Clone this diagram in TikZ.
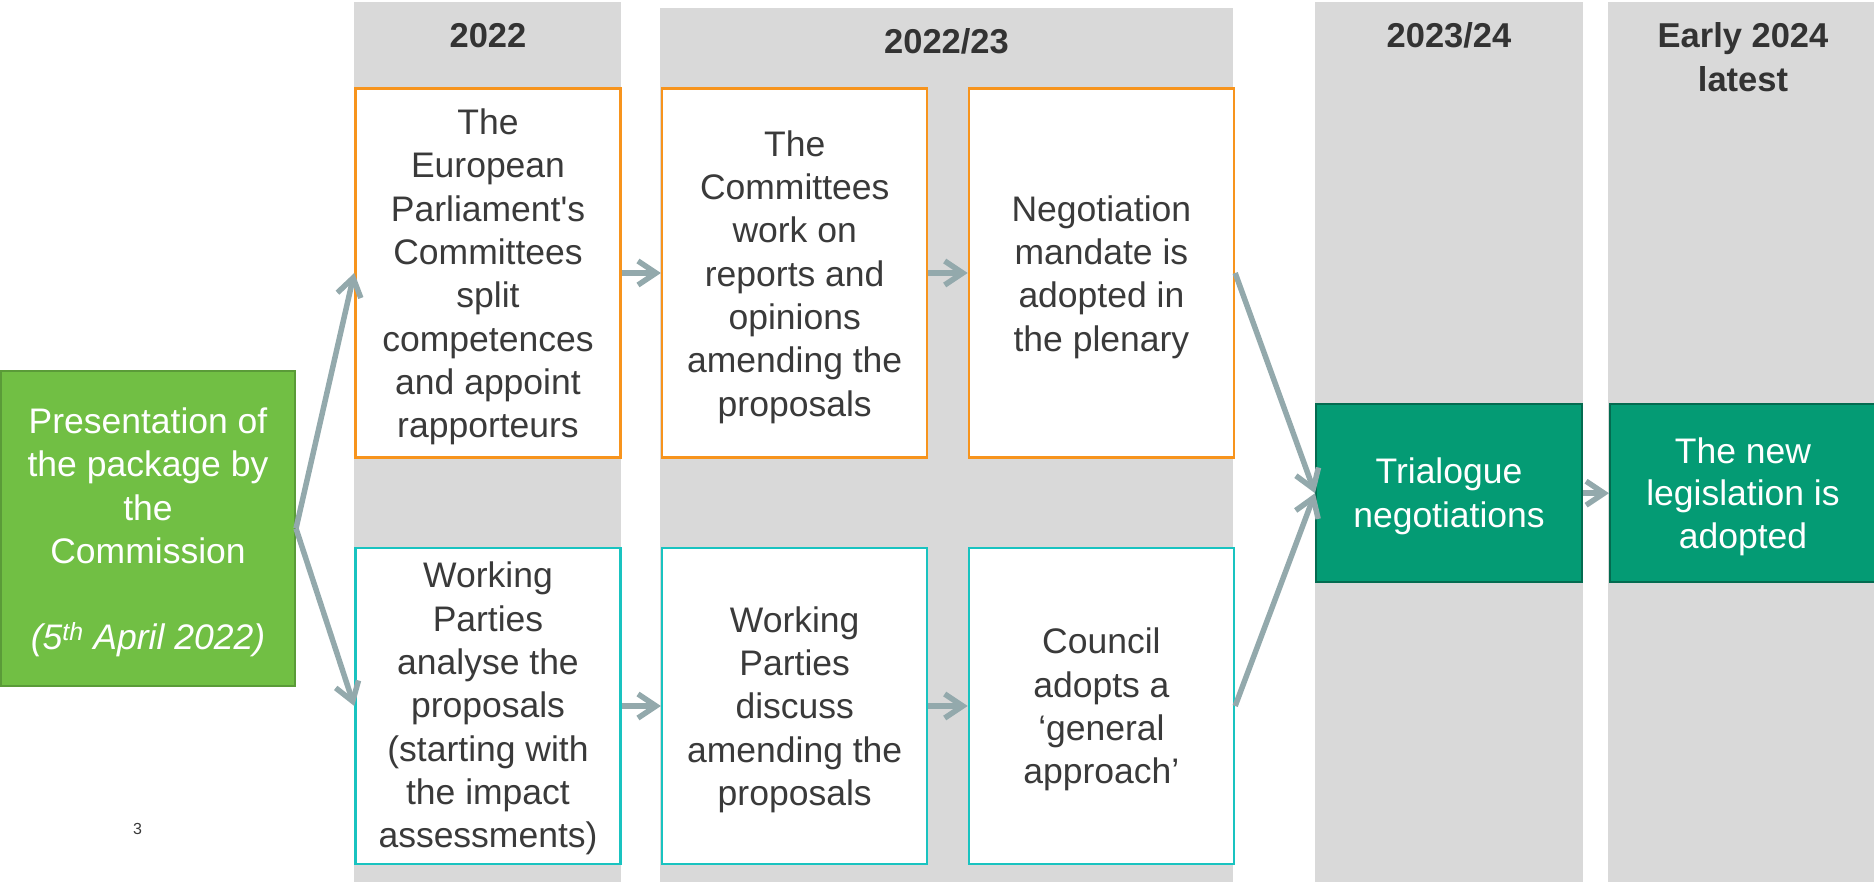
\documentclass[tikz,border=0pt]{standalone}
\usepackage{fontspec}
\setmainfont{Liberation Sans}
\usetikzlibrary{arrows.meta}

\definecolor{colgray}{HTML}{D9D9D9}
\definecolor{edgeorange}{HTML}{F7941D}
\definecolor{edgecyan}{HTML}{19C3C0}
\definecolor{lgreen}{HTML}{71BF44}
\definecolor{lgreenedge}{HTML}{5A9B38}
\definecolor{teal}{HTML}{049B74}
\definecolor{tealedge}{HTML}{036B50}
\definecolor{arrowgray}{HTML}{93A9AC}
\definecolor{textgray}{HTML}{3A3A3A}
\definecolor{hdrgray}{HTML}{333333}

\begin{document}
\begin{tikzpicture}[x=1pt,y=-1pt,
  column/.style={fill=colgray},
  box/.style={draw, line width=2.5pt, fill=white, inner sep=0pt, minimum width=265pt},
  obox/.style={box, draw=edgeorange, minimum height=368.6pt},
  cbox/.style={box, draw=edgecyan, minimum height=316pt},
  startbox/.style={draw=lgreenedge, fill=lgreen, line width=2pt, inner sep=0pt,
    minimum width=294pt, minimum height=315pt},
  endbox/.style={draw=tealedge, fill=teal, line width=2pt, inner sep=0pt,
    minimum width=266pt, minimum height=178.5pt},
  bodytxt/.style={align=center, inner sep=0pt, text=textgray,
    font=\fontsize{35.5}{43.3}\selectfont},
  whitetxt/.style={bodytxt, text=white},
  hdr/.style={inner sep=0pt, text=hdrgray, align=center,
    font=\bfseries\fontsize{34.5}{44}\selectfont},
  flow/.style={draw=arrowgray, line width=5.5pt,
    -{Straight Barb[length=18pt,width=24pt]}}
]
\useasboundingbox (0,0) rectangle (1874,882);

% period columns
\fill[column] (354,2) rectangle (621,882);
\fill[column] (660,8) rectangle (1233,882);
\fill[column] (1315,2) rectangle (1583,882);
\fill[column] (1608,2) rectangle (1880,882);

% column headings
\node[hdr, anchor=base] (h1) at (488,47.7) {2022};
\node[hdr, anchor=base] (h2) at (946.5,53.3) {2022/23};
\node[hdr, anchor=base] (h3) at (1449,47.8) {2023/24};
\node[hdr] (h4) at (1743,57.2) {Early 2024\\latest};

% starting point
\node[startbox] (g) at (148,528.5) {};
\node[whitetxt] (gt) at (148,532.5)
  {Presentation of\\the package by\\the\\Commission\\[43.3pt]
   \itshape(5\textsuperscript{th} April 2022)};

% Parliament track
\node[obox] (o1) at (488,273) {};
\node[obox] (o2) at (794.7,273) {};
\node[obox] (o3) at (1101.4,273) {};
\node[bodytxt] (o1t) at (488,277)
  {The\\European\\Parliament\textquotesingle s\\Committees\\split\\competences\\and appoint\\rapporteurs};
\node[bodytxt] (o2t) at (794.7,277)
  {The\\Committees\\work on\\reports and\\opinions\\amending the\\proposals};
\node[bodytxt] (o3t) at (1101.4,277)
  {Negotiation\\mandate is\\adopted in\\the plenary};

% Council track
\node[cbox] (c1) at (488,706) {};
\node[cbox] (c2) at (794.7,706) {};
\node[cbox] (c3) at (1101.4,706) {};
\node[bodytxt] (c1t) at (488,708.7)
  {Working\\Parties\\analyse the\\proposals\\(starting with\\the impact\\assessments)};
\node[bodytxt] (c2t) at (794.7,709.6)
  {Working\\Parties\\discuss\\amending the\\proposals};
\node[bodytxt] (c3t) at (1101.4,709.5)
  {Council\\adopts a\\‘general\\approach’};

% final stages
\node[endbox] (t) at (1449,493.2) {};
\node[endbox] (n) at (1743,493.2) {};
\node[whitetxt] (tt) at (1449,496.3) {Trialogue\\negotiations};
\node[whitetxt, font=\fontsize{35.5}{42.5}\selectfont] (nt) at (1743,496.7)
  {The new\\legislation is\\adopted};

% page number
\node[inner sep=0pt, text=textgray, font=\fontsize{16}{19}\selectfont] (pg) at (137.5,829) {3};

% flow arrows
\draw[flow] (g.east) -- (o1.west);
\draw[flow] (g.east) -- (c1.west);
\draw[flow] (o1.east) -- (o2.west);
\draw[flow] (o2.east) -- (o3.west);
\draw[flow] (c1.east) -- (c2.west);
\draw[flow] (c2.east) -- (c3.west);
\draw[flow] (o3.east) -- (t.west);
\draw[flow] (c3.east) -- (t.west);
\draw[flow] (t.east) -- (n.west);
\end{tikzpicture}
\end{document}
